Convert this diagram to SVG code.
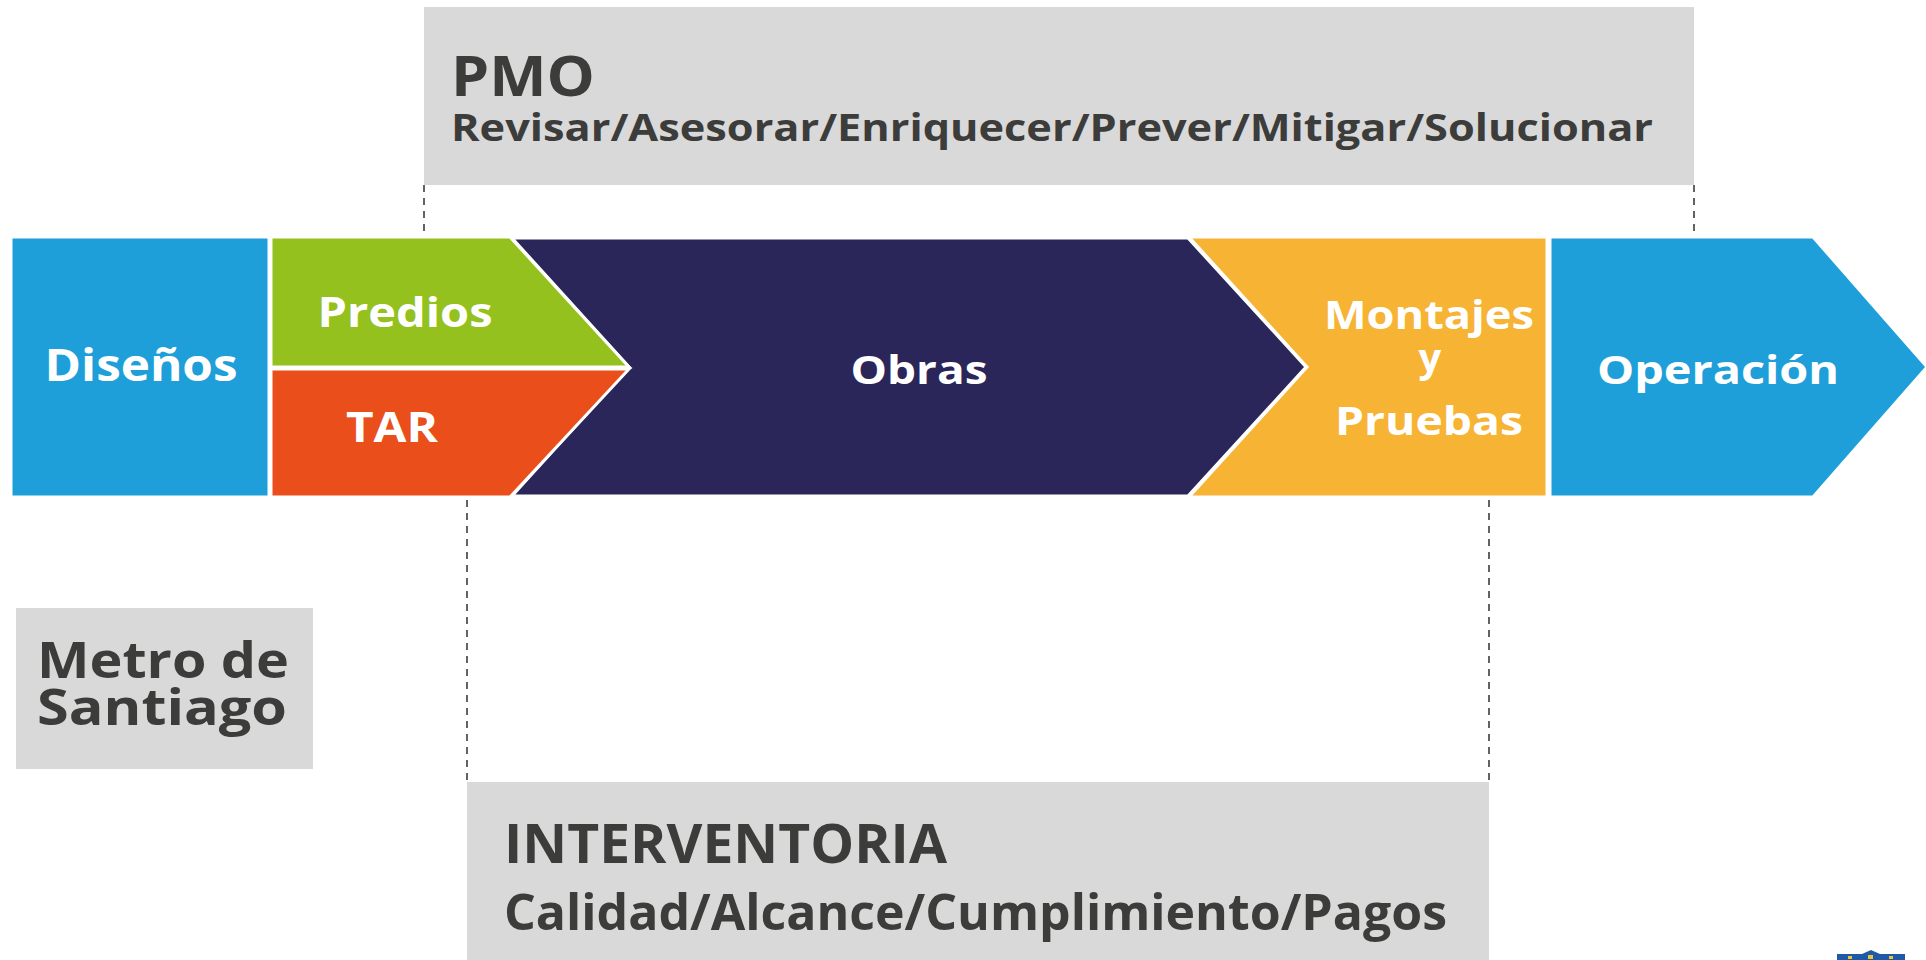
<svg xmlns="http://www.w3.org/2000/svg" width="1926" height="960" viewBox="0 0 1926 960">
<style>
  .box { fill: #d9d9d9; }
  .seg { stroke: #ffffff; stroke-width: 3; stroke-linejoin: miter; }
  .wt { fill: #ffffff; font-family: "Open Sans", "Liberation Sans", sans-serif; font-weight: 700; }
  .dk { fill: #3c3c3b; font-family: "Open Sans", "Liberation Sans", sans-serif; font-weight: 700; }
  .dash { stroke: #3c3c3b; stroke-width: 1.6; stroke-dasharray: 7 6; fill: none; }
</style>
<rect width="1926" height="960" fill="#ffffff"/>

<g id="connectors">
  <line class="dash" x1="424" y1="185" x2="424" y2="237"/>
  <line class="dash" x1="1694" y1="185" x2="1694" y2="237"/>
  <line class="dash" x1="467" y1="500" x2="467" y2="782"/>
  <line class="dash" x1="1489" y1="500" x2="1489" y2="782"/>
</g>

<g id="pmo">
  <rect class="box" x="424" y="7" width="1270" height="178"/>
  <text class="dk" x="451" y="96" font-size="56" textLength="144" lengthAdjust="spacingAndGlyphs">PMO</text>
  <text class="dk" x="451" y="141" font-size="38" textLength="1202" lengthAdjust="spacingAndGlyphs">Revisar/Asesorar/Enriquecer/Prever/Mitigar/Solucionar</text>
</g>

<g id="obras">
  <polygon class="seg" fill="#2b2659" points="512,238 1188,238 1306,367 1188,496 512,496 629,367"/>
  <text class="wt" x="919" y="384" font-size="40" text-anchor="middle" textLength="137" lengthAdjust="spacingAndGlyphs">Obras</text>
</g>

<g id="disenos">
  <rect class="seg" fill="#1e9fd9" x="11" y="237" width="258" height="260"/>
  <text class="wt" x="141" y="381" font-size="44" text-anchor="middle" textLength="193" lengthAdjust="spacingAndGlyphs">Diseños</text>
</g>

<g id="predios">
  <polygon class="seg" fill="#95c11f" points="271,237 510,237 629,367 271,367"/>
  <text class="wt" x="405" y="327" font-size="42" text-anchor="middle" textLength="175" lengthAdjust="spacingAndGlyphs">Predios</text>
</g>

<g id="tar">
  <polygon class="seg" fill="#e94e1b" points="271,369 629,369 510,497 271,497"/>
  <text class="wt" x="392" y="442" font-size="42" text-anchor="middle" textLength="92" lengthAdjust="spacingAndGlyphs">TAR</text>
</g>

<g id="montajes">
  <polygon class="seg" fill="#f7b334" points="1189,237 1547,237 1547,497 1189,497 1307,367"/>
  <text class="wt" x="1429" y="329" font-size="40" text-anchor="middle" textLength="210" lengthAdjust="spacingAndGlyphs">Montajes</text>
  <text class="wt" x="1430" y="372" font-size="40" text-anchor="middle">y</text>
  <text class="wt" x="1429" y="435" font-size="40" text-anchor="middle" textLength="188" lengthAdjust="spacingAndGlyphs">Pruebas</text>
</g>

<g id="operacion">
  <polygon class="seg" fill="#1e9fd9" points="1550,237 1813,237 1927,367 1813,497 1550,497"/>
  <text class="wt" x="1718" y="384" font-size="40" text-anchor="middle" textLength="242" lengthAdjust="spacingAndGlyphs">Operación</text>
</g>

<g id="metro">
  <rect class="box" x="16" y="608" width="297" height="161"/>
  <text class="dk" x="37" y="678" font-size="50" textLength="252" lengthAdjust="spacingAndGlyphs">Metro de</text>
  <text class="dk" x="37" y="725" font-size="50" textLength="250" lengthAdjust="spacingAndGlyphs">Santiago</text>
</g>

<g id="interventoria">
  <rect class="box" x="467" y="782" width="1022" height="178"/>
  <text class="dk" x="504" y="863" font-size="54" textLength="443" lengthAdjust="spacingAndGlyphs">INTERVENTORIA</text>
  <text class="dk" x="504" y="930" font-size="50" textLength="943" lengthAdjust="spacingAndGlyphs">Calidad/Alcance/Cumplimiento/Pagos</text>
</g>

<g id="logo">
  <path d="M1837,960 L1837,954 L1862,954 L1871,950 L1880,954 L1905,954 L1905,960 Z" fill="#1f5aa6"/>
  <rect x="1848" y="956" width="4" height="3" fill="#f2c230"/>
  <rect x="1868" y="955" width="5" height="4" fill="#f2c230"/>
  <rect x="1889" y="956" width="4" height="3" fill="#f2c230"/>
</g>
</svg>
